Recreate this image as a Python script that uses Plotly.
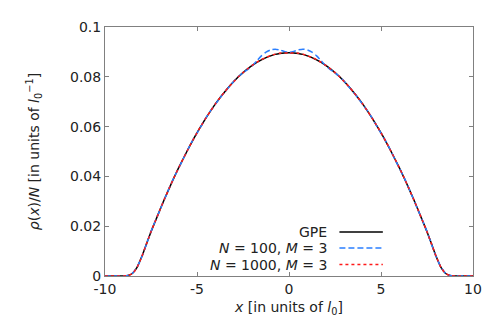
import plotly.graph_objects as go

x_vals = [-10, -9.75, -9.5, -9.25, -9, -8.75, -8.5, -8.25, -8, -7.75, -7.5, -7.25,
          -7, -6.75, -6.5, -6.25, -6, -5.75, -5.5, -5.25, -5, -4.75, -4.5, -4.25,
          -4, -3.75, -3.5, -3.25, -3, -2.75, -2.5, -2.25, -2, -1.75, -1.5, -1.25,
          -1, -0.75, -0.5, -0.25, 0, 0.25, 0.5, 0.75, 1, 1.25, 1.5, 1.75,
          2, 2.25, 2.5, 2.75, 3, 3.25, 3.5, 3.75, 4, 4.25, 4.5, 4.75,
          5, 5.25, 5.5, 5.75, 6, 6.25, 6.5, 6.75, 7, 7.25, 7.5, 7.75,
          8, 8.25, 8.5, 8.75, 9, 9.25, 9.5, 9.75, 10]

rho_gpe = [0, 0, 0, 0, 0, 0.0002, 0.0011, 0.0036, 0.0078, 0.0128, 0.0178, 0.0223,
           0.0268, 0.0312, 0.0354, 0.0395, 0.0434, 0.0471, 0.0507, 0.0542, 0.0575, 0.0606, 0.0636, 0.0664,
           0.0691, 0.0716, 0.0739, 0.0761, 0.0781, 0.0800, 0.0817, 0.0832, 0.0846, 0.0858, 0.0868, 0.0877,
           0.0884, 0.0890, 0.0894, 0.0896, 0.0897, 0.0896, 0.0894, 0.0890, 0.0884, 0.0877, 0.0868, 0.0858,
           0.0846, 0.0832, 0.0817, 0.0800, 0.0781, 0.0761, 0.0739, 0.0716, 0.0691, 0.0664, 0.0636, 0.0606,
           0.0575, 0.0542, 0.0507, 0.0471, 0.0434, 0.0395, 0.0354, 0.0312, 0.0268, 0.0223, 0.0178, 0.0128,
           0.0078, 0.0036, 0.0011, 0.0002, 0, 0, 0, 0, 0]

rho_n100 = [0, 0, 0, 0, 0, 0.0002, 0.0012, 0.0037, 0.0077, 0.0127, 0.0179, 0.0224,
            0.0267, 0.0311, 0.0355, 0.0396, 0.0433, 0.0470, 0.0508, 0.0543, 0.0574, 0.0605, 0.0637, 0.0665,
            0.0690, 0.0715, 0.0738, 0.0760, 0.0782, 0.0801, 0.0816, 0.0829, 0.0844, 0.0864, 0.0884, 0.0899,
            0.0908, 0.0911, 0.0908, 0.0902, 0.0898, 0.0902, 0.0908, 0.0911, 0.0908, 0.0899, 0.0884, 0.0864,
            0.0844, 0.0829, 0.0816, 0.0801, 0.0782, 0.0760, 0.0738, 0.0715, 0.0690, 0.0665, 0.0637, 0.0605,
            0.0574, 0.0543, 0.0508, 0.0470, 0.0433, 0.0396, 0.0355, 0.0311, 0.0267, 0.0224, 0.0179, 0.0127,
            0.0077, 0.0037, 0.0012, 0.0002, 0, 0, 0, 0, 0]

rho_n1000 = [0, 0, 0, 0, 0, 0.0002, 0.0011, 0.0036, 0.0078, 0.0128, 0.0178, 0.0223,
             0.0268, 0.0312, 0.0354, 0.0395, 0.0434, 0.0471, 0.0507, 0.0542, 0.0575, 0.0606, 0.0636, 0.0664,
             0.0691, 0.0716, 0.0739, 0.0761, 0.0781, 0.0800, 0.0817, 0.0832, 0.0846, 0.0858, 0.0869, 0.0878,
             0.0885, 0.0891, 0.0895, 0.0896, 0.0896, 0.0896, 0.0895, 0.0891, 0.0885, 0.0878, 0.0869, 0.0858,
             0.0846, 0.0832, 0.0817, 0.0800, 0.0781, 0.0761, 0.0739, 0.0716, 0.0691, 0.0664, 0.0636, 0.0606,
             0.0575, 0.0542, 0.0507, 0.0471, 0.0434, 0.0395, 0.0354, 0.0312, 0.0268, 0.0223, 0.0178, 0.0128,
             0.0078, 0.0036, 0.0011, 0.0002, 0, 0, 0, 0, 0]

x_ticks = [-10, -5, 0, 5, 10]
x_tick_labels = ["-10", "-5", "0", "5", "10"]
y_ticks = [0, 0.02, 0.04, 0.06, 0.08, 0.1]
y_tick_labels = ["0", "0.02", "0.04", "0.06", "0.08", "0.1"]

series_names = ["GPE", "<i>N</i> = 100, <i>M</i> = 3", "<i>N</i> = 1000, <i>M</i> = 3"]
series_colors = ["#000000", "#2b7fff", "#ff1a1a"]
series_dash = ["solid", "6px,3px", "3px,3px"]

FONT = "DejaVu Sans"
AX = "#808080"

fig = go.Figure()
for ys, name, col, dash in zip([rho_gpe, rho_n100, rho_n1000], series_names, series_colors, series_dash):
    fig.add_trace(go.Scatter(x=x_vals, y=ys, mode="lines", name=name, showlegend=False,
                             line=dict(color=col, width=1.5, dash=dash, shape="spline", smoothing=0.6)))

# gnuplot-style key (text then sample to its right)
key_rows_y = [0.177, 0.112, 0.046]
for ty, name, col, dash in zip(key_rows_y, series_names, series_colors, series_dash):
    fig.add_annotation(x=0.609, y=ty, xref="paper", yref="paper", text=name, showarrow=False,
                       xanchor="right", yanchor="middle", font=dict(family=FONT, size=14, color="#222"))
    fig.add_shape(type="line", xref="paper", yref="paper", x0=0.637, x1=0.755, y0=ty, y1=ty,
                  line=dict(color=col, width=1.5, dash=dash))

axis_common = dict(showline=True, linecolor=AX, linewidth=1, mirror="ticks", ticks="inside",
                   ticklen=4, tickcolor=AX, tickwidth=1, showgrid=False, zeroline=False,
                   automargin=False,
                   tickfont=dict(family=FONT, size=14, color="#222"))

fig.update_xaxes(range=[-10, 10], tickvals=x_ticks, ticktext=x_tick_labels,
                 title=dict(text="<i>x</i> [in units of <i>l</i><sub>0</sub>]",
                            font=dict(family=FONT, size=14, color="#222"), standoff=6),
                 **axis_common)
fig.update_yaxes(range=[0, 0.1], tickvals=y_ticks, ticktext=y_tick_labels,
                 title=dict(text="<i>ρ</i>(<i>x</i>)/<i>N</i> [in units of <i>l</i><sub>0</sub><sup>−1</sup>]",
                            font=dict(family=FONT, size=14, color="#222"), standoff=27),
                 **axis_common)

fig.update_layout(width=490, height=320, margin=dict(l=97, r=25, t=19, b=52),
                  plot_bgcolor="white", paper_bgcolor="white",
                  font=dict(family=FONT, size=14, color="#222"))

fig.write_html("out.html")
